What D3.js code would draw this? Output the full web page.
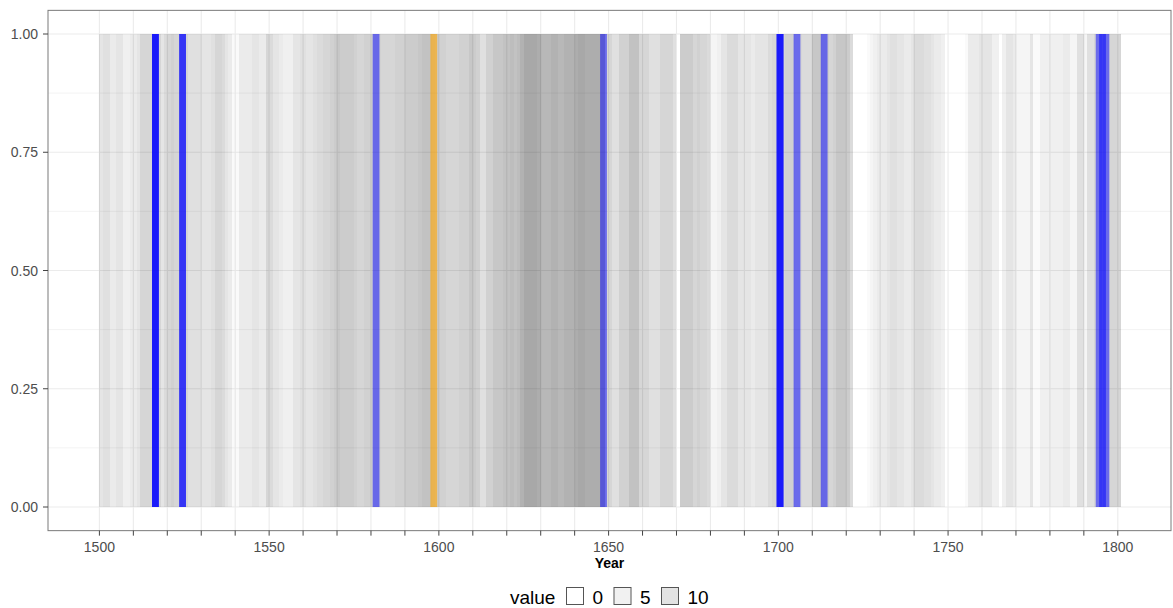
<!DOCTYPE html>
<html><head><meta charset="utf-8">
<script src="https://cdn.jsdelivr.net/npm/d3@7"></script>
<style>
body{margin:0;background:#fff}
svg{display:block}
text{font-family:"Liberation Sans",Arial,sans-serif}
</style>
</head><body>
<svg id="chart" width="1173" height="608"></svg>
<script>
// ---------- data ----------
const firstYear = 1500;
const lastYear = 1800;
// overlap intensity per year, 1500..1800
const shade = [
  2.5,3,3,2,2,2.5,2.5,1.5,1.5,2,
  2,2.5,4,4,4,4,4,4,2.5,3.5,
  4,4.5,4,4,4,4,3,3,3,3,
  2.5,2.5,2.5,3,4,4,3.5,2.5,2,0.5,
  0.5,2,2,2,2,2.5,2.5,2,2,4,
  3.5,2.5,2.5,2,1.5,1.5,1.5,2.5,2.5,3,
  3,2.5,2.5,3,3.5,3.5,4,4,4.5,5,
  5.5,5,5,5,5,4.5,4,4,4.5,4.5,
  4.5,4.5,4.5,4,4,4,4,4.5,4.5,4.5,
  5,5,5,5,5.5,6,6,6,5.5,5,
  4.5,4.5,4,4,4,4,4.5,4.5,4.5,5.5,
  5,4.5,3,3,4.5,4.5,5.5,5.5,5.5,6,
  6,6.5,6,6.5,7.5,8.5,8.5,8.5,8.5,8,
  7,7,7,7.5,7.5,7,7,7.5,7.5,7.5,
  8,8.5,8.5,8,8,8,8,8,8,4,
  4,3,3,4.5,4.5,4.5,6,6,6,4,
  4,4,3,3,3,4,4,4,4,3,
  0,5,5,5,5,4,4.5,4,4,3.5,
  1,1,1.5,2.5,2.5,3.5,3.5,3.5,2.5,2.5,
  2.5,2.5,2,2.5,2.5,2.5,2.5,3.5,4,4,
  4,4,4.5,4.5,4.5,4,4,3.5,3.5,3.5,
  5.5,5.5,5.5,5,5,4,4.5,5.5,5.5,5.5,
  5,3.5,0,0,0,0,0.5,1,1.5,2,
  2,2,2.5,3,3,2.5,2.5,2,2,2.5,
  3.5,3.5,3.5,3,3,2.5,2,2,1.5,0,
  0,0,0,0,0,0.5,2,2,2,2.5,
  2.5,2.5,2.5,1.5,1.5,0,1.5,2.5,2.5,2,
  1,1,1,1,2.5,0.5,0.5,1.5,1.5,1.5,
  1.5,1.5,1.5,1.5,2,2,1,1,3,3,
  1,3,3,4,4,4,4,4,4,4,
  4
];
const blueYears = [1516,1516,1516,1524,1524,1581,1648,1700,1700,1700,1705,1713,1794,1795,1796];
const orangeYears = [1598];
const yMajor = [0, 0.25, 0.5, 0.75, 1];
const yMinor = [0.125, 0.375, 0.625, 0.875];
const xBreaks = d3.range(1500, 1801, 10);
const xLabelled = [1500, 1550, 1600, 1650, 1700, 1750, 1800];
const legendValues = [0, 5, 10];
const xTitle = "Year";
const legendTitle = "value";

// ---------- layout ----------
const svg = d3.select("#chart");
const panel = {left: 48, top: 10.35, right: 1171, bottom: 530.65};
const x = d3.scaleLinear().domain([1500, 1800]).range([99.4, 1117.8]);
const y = d3.scaleLinear().domain([0, 1]).range([507, 34]);
const shadeOpacity = d3.scaleLinear().domain([0, 10]).range([0, 0.4]);
const legendOpacity = d3.scaleLinear().domain([0, 10]).range([0, 0.11]);

const years = d3.range(firstYear, lastYear + 1);
const data = years.map((yr, i) => ({year: yr, v: shade[i]}));

// gridlines
const g = svg.append("g");
g.selectAll("line.ymin").data(yMinor).join("line")
  .attr("x1", panel.left).attr("x2", panel.right)
  .attr("y1", d => y(d)).attr("y2", d => y(d))
  .attr("stroke", "#ebebeb").attr("stroke-width", 0.6);
g.selectAll("line.ymaj").data(yMajor).join("line")
  .attr("x1", panel.left).attr("x2", panel.right)
  .attr("y1", d => y(d)).attr("y2", d => y(d))
  .attr("stroke", "#ebebeb").attr("stroke-width", 1.1);
g.selectAll("line.xmaj").data(xBreaks).join("line")
  .attr("x1", d => x(d)).attr("x2", d => x(d))
  .attr("y1", panel.top).attr("y2", panel.bottom)
  .attr("stroke", "#ebebeb").attr("stroke-width", 1.1);

// grey year bars
svg.append("g").selectAll("rect").data(data.filter(d => d.v > 0)).join("rect")
  .attr("x", d => x(d.year))
  .attr("width", d => x(d.year + 1) - x(d.year))
  .attr("y", y(1)).attr("height", y(0) - y(1))
  .attr("fill", "#000").attr("fill-opacity", d => shadeOpacity(d.v))
  .attr("shape-rendering", "crispEdges");

// event bars
svg.append("g").selectAll("rect").data(blueYears).join("rect")
  .attr("x", d => x(d - 0.5)).attr("width", d => x(d + 1.5) - x(d - 0.5))
  .attr("y", y(1)).attr("height", y(0) - y(1))
  .attr("fill", "#0000ff").attr("fill-opacity", 0.5);
svg.append("g").selectAll("rect").data(orangeYears).join("rect")
  .attr("x", d => x(d - 0.5)).attr("width", d => x(d + 1.5) - x(d - 0.5))
  .attr("y", y(1)).attr("height", y(0) - y(1))
  .attr("fill", "#ffa500").attr("fill-opacity", 0.6);

// panel border
svg.append("rect")
  .attr("x", panel.left).attr("y", panel.top)
  .attr("width", panel.right - panel.left).attr("height", panel.bottom - panel.top)
  .attr("fill", "none").attr("stroke", "#7a7a7a").attr("stroke-width", 1);

// y axis
const ya = svg.append("g");
ya.selectAll("line").data(yMajor).join("line")
  .attr("x1", panel.left - 5).attr("x2", panel.left)
  .attr("y1", d => y(d)).attr("y2", d => y(d))
  .attr("stroke", "#444").attr("stroke-width", 1);
ya.selectAll("text").data(yMajor).join("text")
  .attr("x", panel.left - 10).attr("y", d => y(d)).attr("dy", "0.36em")
  .attr("text-anchor", "end").attr("font-size", 14).attr("fill", "#4d4d4d")
  .text(d => d3.format(".2f")(d));

// x axis
const xa = svg.append("g");
xa.selectAll("line").data(xBreaks).join("line")
  .attr("x1", d => x(d)).attr("x2", d => x(d))
  .attr("y1", panel.bottom).attr("y2", panel.bottom + 5)
  .attr("stroke", "#444").attr("stroke-width", 1);
xa.selectAll("text").data(xLabelled).join("text")
  .attr("x", d => x(d)).attr("y", 552)
  .attr("text-anchor", "middle").attr("font-size", 14).attr("fill", "#4d4d4d")
  .text(d => d);

svg.append("text").attr("x", (panel.left + panel.right) / 2).attr("y", 568)
  .attr("text-anchor", "middle").attr("font-size", 14).attr("font-weight", "bold")
  .attr("fill", "#000").text(xTitle);

// legend
const lg = svg.append("g");
lg.append("text").attr("x", 510).attr("y", 604).attr("font-size", 19).attr("fill", "#000").text(legendTitle);
const keyX = [566.5, 614, 661.5];
legendValues.forEach((v, i) => {
  lg.append("rect").attr("x", keyX[i]).attr("y", 587.5).attr("width", 17).attr("height", 17)
    .attr("fill", "#fff").attr("stroke", "#555").attr("stroke-width", 1);
  lg.append("rect").attr("x", keyX[i] + 0.5).attr("y", 588).attr("width", 16).attr("height", 16)
    .attr("fill", "#000").attr("fill-opacity", legendOpacity(v));
  lg.append("text").attr("x", keyX[i] + 26).attr("y", 604).attr("font-size", 19).attr("fill", "#000").text(v);
});
</script>
</body></html>
